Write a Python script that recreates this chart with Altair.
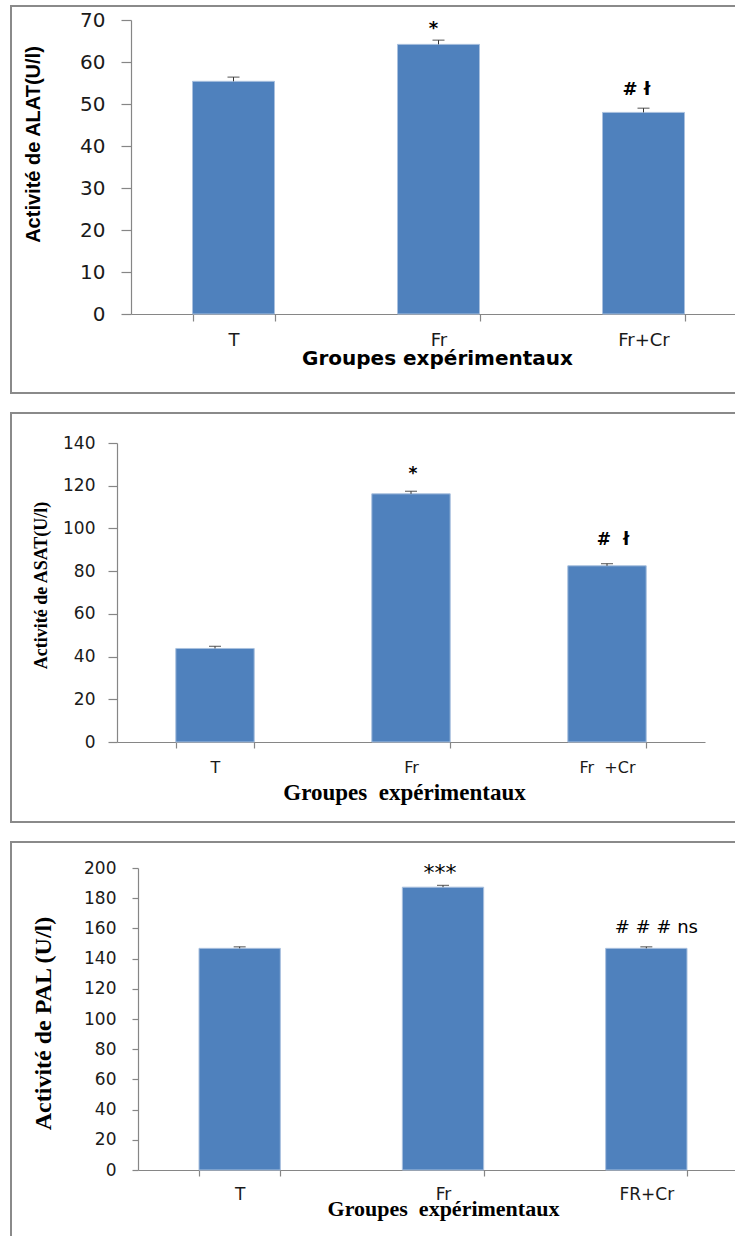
import altair as alt
import pandas as pd

# ALAT activity (U/l)
alat_groups = ["T", "Fr", "Fr+Cr"]
alat_mean = [55.4, 64.2, 48.0]
alat_err = [1.0, 1.0, 1.0]
alat_notes = ["", "*", "# ł"]

# ASAT activity (U/l)
asat_groups = ["T", "Fr", "Fr\u00a0\u00a0+Cr"]
asat_mean = [43.8, 116.2, 82.5]
asat_err = [1.0, 1.2, 1.0]
asat_notes = ["", "*", "#\u00a0\u00a0ł"]

# PAL activity (U/l)
pal_groups = ["T", "Fr", "FR+Cr"]
pal_mean = [146.8, 187.3, 146.8]
pal_err = [1.0, 1.2, 1.0]
pal_notes = ["", "***", "# # # ns"]

BAR = "#4F81BD"
AXIS = "#868686"
FRAME = "#8a8a8a"
INK = "#1a1a1a"
LEFT = 117  # x of the shared layout origin on the page


def panel(groups, means, errs, notes, s):
    df = pd.DataFrame({
        "g": groups,
        "m": means,
        "hi": [a + b for a, b in zip(means, errs)],
        "note": notes,
        "k": list(range(len(groups))),
    })
    sh = s["shift"]  # how far this panel's y axis sits right of the origin
    x = alt.X(
        "g:N", sort=groups,
        scale=alt.Scale(paddingInner=0.6, paddingOuter=0.3,
                        range=[sh, sh + s["w"]]),
        axis=alt.Axis(
            title=s["xtitle"], titleFont=s["xtfont"], titleFontSize=s["xtsize"],
            titleFontWeight="bold", titleColor="black",
            titleX=sh + s["xtx"], titleY=s["xty"], titleAlign="center",
            titleBaseline="alphabetic", titleAngle=0,
            labelFont=s["lfont"], labelFontSize=s["xlsize"], labelColor=INK,
            labelAngle=0, labelPadding=s["xlpad"], tickSize=s["xtick"],
            tickBand="extent", tickColor=AXIS, domainColor=AXIS,
            domainWidth=1.2, tickWidth=1.2,
        ),
    )
    yaxis = alt.Axis(
        title=s["ytitle"], titleFont=s["ytfont"], titleFontSize=s["ytsize"],
        titleFontWeight="bold", titleColor="black",
        titleX=s["ytx"], titleY=s["yty"], titleAngle=270, titleAlign="center",
        titleBaseline="alphabetic", offset=-sh,
        values=s["yvalues"], labelFont=s["lfont"], labelFontSize=s["ylsize"],
        labelColor=INK, labelPadding=s["ylpad"], tickSize=s["ytick"],
        tickColor=AXIS, domainColor=AXIS, domainWidth=1.2, tickWidth=1.2,
        grid=False,
    )
    yscale = alt.Scale(domain=s["ydomain"], nice=False)
    base = alt.Chart(df)

    # open frame around the panel: its right (and for the last panel, bottom)
    # side runs past the edge of the page
    frame = alt.Chart(alt.Data(values=[{}])).mark_rect(
        fill="white", fillOpacity=0, stroke=FRAME, strokeWidth=2
    ).encode(
        x=alt.value(11 - LEFT), x2=alt.value(760 - LEFT),
        y=alt.value(s["frame"][0]), y2=alt.value(s["frame"][1]),
    )
    bars = base.mark_bar(color=BAR, stroke="#a9c0de", strokeWidth=1).encode(
        x=x, y=alt.Y("m:Q", scale=yscale, axis=yaxis)
    )
    err = base.mark_rule(color="#333333", strokeWidth=1).encode(
        x=x, y=alt.Y("m:Q", scale=yscale, axis=yaxis), y2="hi:Q"
    )
    caps = base.mark_tick(color="#333333", thickness=1.2, size=12).encode(
        x=x, y=alt.Y("hi:Q", scale=yscale, axis=yaxis)
    )
    star = base.transform_filter("datum.k == 1").mark_text(
        font=s["nfont"], fontSize=s["ssize"], fontWeight=s["nweight"],
        color="black", baseline="alphabetic", dx=s["sdx"], dy=s["sdy"],
    ).encode(x=x, y=alt.Y("hi:Q", scale=yscale, axis=yaxis), text="note:N")
    hashes = base.transform_filter("datum.k == 2").mark_text(
        font=s["nfont"], fontSize=s["nsize"], fontWeight=s["nweight"],
        color="black", baseline="alphabetic", dx=s["hdx"], dy=s["hdy"],
    ).encode(x=x, y=alt.Y("hi:Q", scale=yscale, axis=yaxis), text="note:N")

    return alt.layer(frame, bars, err, caps, star, hashes).properties(
        width=sh + s["w"], height=s["h"]
    )


p1 = panel(alat_groups, alat_mean, alat_err, alat_notes, dict(
    shift=14, w=615, h=294, ydomain=[0, 70],
    yvalues=[0, 10, 20, 30, 40, 50, 60, 70],
    lfont="DejaVu Sans", xlsize=18, ylsize=20, xlpad=10, xtick=7,
    ylpad=16, ytick=10,
    xtitle="Groupes expérimentaux", xtfont="DejaVu Sans", xtsize=20,
    xtx=306, xty=50,
    ytitle="Activité de ALAT(U/l)", ytfont="Liberation Sans", ytsize=20,
    ytx=-92, yty=124,
    nfont="DejaVu Sans", nsize=18, ssize=18, nweight="bold",
    sdx=-5, sdy=-6, hdx=-7, hdy=-13,
    frame=[-14, 373],
))

p2 = panel(asat_groups, asat_mean, asat_err, asat_notes, dict(
    shift=0, w=588, h=299, ydomain=[0, 140],
    yvalues=[0, 20, 40, 60, 80, 100, 120, 140],
    lfont="DejaVu Sans", xlsize=16, ylsize=17, xlpad=11, xtick=6,
    ylpad=13, ytick=9,
    xtitle="Groupes\u00a0 expérimentaux", xtfont="Liberation Serif", xtsize=23,
    xtx=287, xty=57,
    ytitle="Activité de ASAT(U/l)", ytfont="Liberation Serif", ytsize=18,
    ytx=-71, yty=142,
    nfont="DejaVu Sans", nsize=17, ssize=17, nweight="bold",
    sdx=2, sdy=-12, hdx=6, hdy=-19,
    frame=[-30, 379],
))

p3 = panel(pal_groups, pal_mean, pal_err, pal_notes, dict(
    shift=21, w=610, h=302, ydomain=[0, 200],
    yvalues=[0, 20, 40, 60, 80, 100, 120, 140, 160, 180, 200],
    lfont="DejaVu Sans", xlsize=17, ylsize=17, xlpad=10, xtick=6,
    ylpad=16, ytick=6,
    xtitle="Groupes\u00a0 expérimentaux", xtfont="Liberation Serif", xtsize=22,
    xtx=305, xty=45,
    ytitle="Activité de PAL (U/l)", ytfont="Liberation Serif", ytsize=24,
    ytx=-88, yty=155,
    nfont="DejaVu Sans", nsize=18, ssize=22, nweight="normal",
    sdx=-3, sdy=-5, hdx=10, hdy=-14,
    frame=[-26, 420],
))

# fixed 735 x 1236 canvas; panels are stacked one after the other (flow
# layout) and anything past the canvas edge is cut off
chart = alt.concat(p1, p2, p3, columns=1, spacing=18, align="none").properties(
    autosize=alt.AutoSizeParams(type="none"),
    padding={"left": LEFT, "top": 20, "right": 735 - LEFT, "bottom": 1216},
    background="white",
).configure_view(strokeWidth=0)

chart.save("out.html", embed_options={"renderer": "svg", "actions": False})
